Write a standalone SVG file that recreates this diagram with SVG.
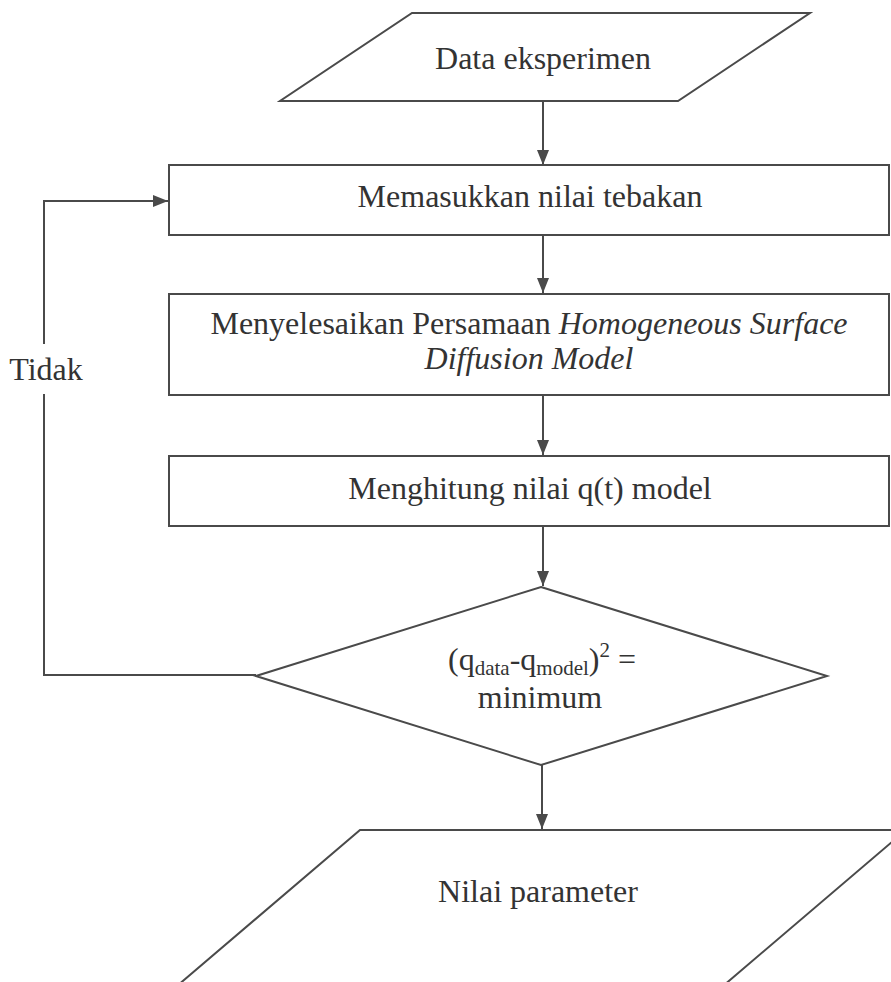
<svg xmlns="http://www.w3.org/2000/svg" width="891" height="982" viewBox="0 0 891 982">
<style>
.shape{fill:#fff;stroke:#4a4a4a;stroke-width:2}
.conn{fill:none;stroke:#4a4a4a;stroke-width:2}
text{font-family:"Liberation Serif","Times New Roman",serif;fill:#333;font-size:32px}
.c{text-anchor:middle}
.it{font-style:italic}
.sub{font-size:21px}
</style>
<defs>
<marker id="arr" markerUnits="userSpaceOnUse" markerWidth="16" markerHeight="12" refX="15" refY="6" orient="auto">
<path d="M0,0 L15,6 L0,12 z" fill="#4a4a4a"/>
</marker>
</defs>
<rect width="891" height="982" fill="#fff"/>
<g id="connectors">
<path class="conn" d="M543,101 V165" marker-end="url(#arr)"/>
<path class="conn" d="M543,235 V293" marker-end="url(#arr)"/>
<path class="conn" d="M543,395 V455" marker-end="url(#arr)"/>
<path class="conn" d="M543,526 V586" marker-end="url(#arr)"/>
<path class="conn" d="M542,765 V829" marker-end="url(#arr)"/>
<path class="conn" d="M256,675 H44 V394"/>
<path class="conn" d="M44,344 V201 H168" marker-end="url(#arr)"/>
<text class="c" x="46" y="380" font-size="30">Tidak</text>
</g>
<g id="data-eksperimen">
<polygon class="shape" points="412,13 810,13 678,101 280,101"/>
<text class="c" x="543" y="69">Data eksperimen</text>
</g>
<g id="memasukkan">
<rect class="shape" x="169" y="165" width="720" height="70"/>
<text class="c" x="530" y="207">Memasukkan nilai tebakan</text>
</g>
<g id="menyelesaikan">
<rect class="shape" x="169" y="294" width="720" height="101"/>
<text class="c" x="529" y="334">Menyelesaikan Persamaan <tspan class="it">Homogeneous Surface</tspan></text>
<text class="c it" x="529" y="369">Diffusion Model</text>
</g>
<g id="menghitung">
<rect class="shape" x="169" y="456" width="720" height="70"/>
<text class="c" x="530" y="499">Menghitung nilai q(t) model</text>
</g>
<g id="decision">
<polygon class="shape" points="541,587 827,676 541,765 256,676"/>
<text class="c" x="542" y="670">(q<tspan class="sub" dy="5">data</tspan><tspan dy="-5">-q</tspan><tspan class="sub" dy="5">model</tspan><tspan dy="-5">)</tspan><tspan class="sub" dy="-13">2</tspan><tspan dy="13"> =</tspan></text>
<text class="c" x="540" y="708">minimum</text>
</g>
<g id="nilai-parameter">
<polygon class="shape" points="360,830 906,830 723,986 177,986"/>
<text class="c" x="538" y="902">Nilai parameter</text>
</g>
</svg>
